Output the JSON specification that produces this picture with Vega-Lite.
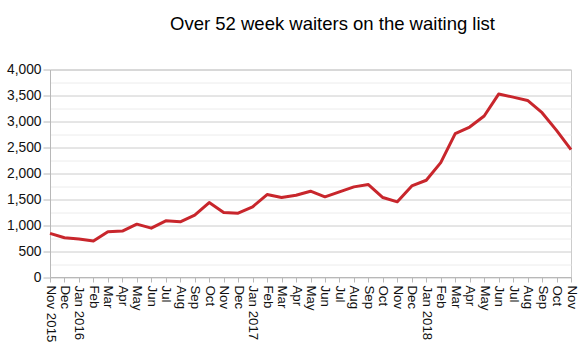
{
  "$schema": "https://vega.github.io/schema/vega-lite/v6.json",
  "autosize": "none",
  "width": 521,
  "height": 207.5,
  "padding": {"left": 50, "top": 69.5, "right": 12, "bottom": 77},
  "background": "white",
  "title": {
    "text": "Over 52 week waiters on the waiting list",
    "font": "Liberation Sans",
    "fontSize": 18.5,
    "fontWeight": "normal",
    "color": "#000000",
    "frame": "group",
    "anchor": "middle",
    "dx": 22,
    "offset": 29
  },
  "data": {
    "values": [
      {"month": "2015-11", "value": 840},
      {"month": "2015-12", "value": 756},
      {"month": "2016-01", "value": 731},
      {"month": "2016-02", "value": 692},
      {"month": "2016-03", "value": 872},
      {"month": "2016-04", "value": 885},
      {"month": "2016-05", "value": 1019},
      {"month": "2016-06", "value": 942},
      {"month": "2016-07", "value": 1083},
      {"month": "2016-08", "value": 1064},
      {"month": "2016-09", "value": 1192},
      {"month": "2016-10", "value": 1436},
      {"month": "2016-11", "value": 1244},
      {"month": "2016-12", "value": 1231},
      {"month": "2017-01", "value": 1353},
      {"month": "2017-02", "value": 1590},
      {"month": "2017-03", "value": 1532},
      {"month": "2017-04", "value": 1577},
      {"month": "2017-05", "value": 1654},
      {"month": "2017-06", "value": 1545},
      {"month": "2017-07", "value": 1641},
      {"month": "2017-08", "value": 1737},
      {"month": "2017-09", "value": 1782},
      {"month": "2017-10", "value": 1532},
      {"month": "2017-11", "value": 1449},
      {"month": "2017-12", "value": 1756},
      {"month": "2018-01", "value": 1865},
      {"month": "2018-02", "value": 2205},
      {"month": "2018-03", "value": 2763},
      {"month": "2018-04", "value": 2891},
      {"month": "2018-05", "value": 3103},
      {"month": "2018-06", "value": 3526},
      {"month": "2018-07", "value": 3468},
      {"month": "2018-08", "value": 3404},
      {"month": "2018-09", "value": 3167},
      {"month": "2018-10", "value": 2827},
      {"month": "2018-11", "value": 2455}
    ]
  },
  "mark": {"type": "line", "color": "#c8262c", "strokeWidth": 3, "strokeJoin": "round"},
  "encoding": {
    "x": {
      "field": "month",
      "type": "ordinal",
      "sort": null,
      "scale": {"type": "point", "padding": 0},
      "axis": {
        "title": null,
        "labelAngle": 90,
        "labelAlign": "left",
        "labelBaseline": "middle",
        "labelFont": "Liberation Sans",
        "labelFontSize": 13.3,
        "labelColor": "#111111",
        "labelPadding": 3,
        "tickSize": 5,
        "tickColor": "#b8b8b8",
        "domainColor": "#b8b8b8",
        "grid": false,
        "labelOverlap": false,
        "labelExpr": "substring('JanFebMarAprMayJunJulAugSepOctNovDec', (toNumber(slice(datum.value,5))-1)*3, toNumber(slice(datum.value,5))*3) + ((datum.value=='2015-11' || slice(datum.value,5)=='01') ? ' ' + slice(datum.value,0,4) : '')"
      }
    },
    "y": {
      "field": "value",
      "type": "quantitative",
      "scale": {"domain": [0, 4000], "nice": false},
      "axis": {
        "title": null,
        "values": [0, 250, 500, 750, 1000, 1250, 1500, 1750, 2000, 2250, 2500, 2750, 3000, 3250, 3500, 3750, 4000],
        "labelExpr": "datum.value % 500 == 0 ? format(datum.value, ',') : ''",
        "labelFont": "Liberation Sans",
        "labelFontSize": 13.8,
        "labelColor": "#111111",
        "labelPadding": 2,
        "tickSize": 7,
        "tickColor": {"condition": {"test": "datum.value % 500 == 0", "value": "#b8b8b8"}, "value": "transparent"},
        "domainColor": "#b8b8b8",
        "gridColor": {"condition": {"test": "datum.value % 500 == 0", "value": "#cccccc"}, "value": "#ececec"},
        "gridOpacity": 1
      }
    }
  },
  "config": {
    "view": {"stroke": "#cccccc"}
  }
}
